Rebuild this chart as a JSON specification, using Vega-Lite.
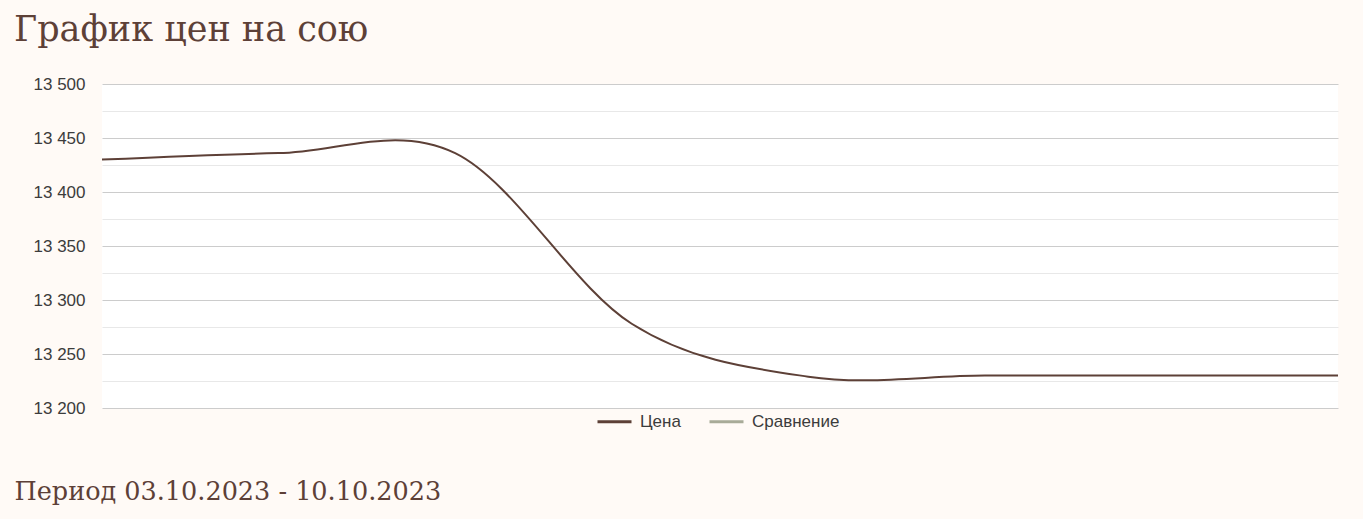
{
  "$schema": "https://vega.github.io/schema/vega-lite/v6.json",
  "width": 1236,
  "height": 324,
  "autosize": {"type": "none"},
  "padding": {"left": 102, "top": 84, "right": 25, "bottom": 111},
  "background": "#fffaf6",
  "title": {
    "text": "График цен на сою",
    "anchor": "start",
    "frame": "group",
    "dx": -88,
    "offset": 35,
    "dy": 36,
    "baseline": "alphabetic",
    "font": "DejaVu Serif",
    "fontSize": 35,
    "fontWeight": "normal",
    "color": "#5d4037"
  },
  "data": {
    "values": [
      {"date": "2023-10-03", "price": 13430, "series": "Цена"},
      {"date": "2023-10-04", "price": 13436, "series": "Цена"},
      {"date": "2023-10-05", "price": 13436, "series": "Цена"},
      {"date": "2023-10-06", "price": 13278, "series": "Цена"},
      {"date": "2023-10-07", "price": 13229, "series": "Цена"},
      {"date": "2023-10-08", "price": 13230, "series": "Цена"},
      {"date": "2023-10-09", "price": 13230, "series": "Цена"},
      {"date": "2023-10-10", "price": 13230, "series": "Цена"}
    ]
  },
  "mark": {"type": "line", "interpolate": "cardinal", "strokeWidth": 2},
  "encoding": {
    "x": {
      "field": "date",
      "type": "temporal",
      "scale": {"nice": false},
      "title": "Период 03.10.2023 - 10.10.2023",
      "axis": {
        "labels": false,
        "ticks": false,
        "domain": false,
        "grid": false,
        "titleFont": "DejaVu Serif",
        "titleFontSize": 25.5,
        "titleFontWeight": "normal",
        "titleColor": "#5d4037",
        "titleAnchor": "start",
        "titleAlign": "left",
        "titleBaseline": "alphabetic",
        "titleX": -88,
        "titleY": 91
      }
    },
    "y": {
      "field": "price",
      "type": "quantitative",
      "scale": {"domain": [13200, 13500], "nice": false, "zero": false},
      "axis": {
        "title": null,
        "values": [13200, 13225, 13250, 13275, 13300, 13325, 13350, 13375, 13400, 13425, 13450, 13475, 13500],
        "labelExpr": "datum.value % 50 === 0 ? replace(format(datum.value, ','), ',', ' ') : ''",
        "labelOverlap": false,
        "gridColor": {"condition": {"test": "datum.value % 50 === 0", "value": "#cccccc"}, "value": "#e8e8e8"},
        "gridWidth": 1,
        "domain": false,
        "ticks": false,
        "labelPadding": 17,
        "labelFont": "Liberation Sans",
        "labelFontSize": 17,
        "labelColor": "#3c3c3c"
      }
    },
    "color": {
      "field": "series",
      "type": "nominal",
      "scale": {"domain": ["Цена", "Сравнение"], "range": ["#5d4037", "#a8ab98"]},
      "legend": {
        "title": null,
        "orient": "none",
        "direction": "horizontal",
        "legendX": 494,
        "legendY": 319,
        "padding": 0,
        "symbolType": "stroke",
        "symbolSize": 1156,
        "symbolStrokeWidth": 3,
        "labelFont": "Liberation Sans",
        "labelFontSize": 17,
        "labelColor": "#3c3c3c",
        "labelOffset": 7,
        "columnPadding": 22
      }
    }
  },
  "config": {"view": {"stroke": null, "fill": "white"}}
}
